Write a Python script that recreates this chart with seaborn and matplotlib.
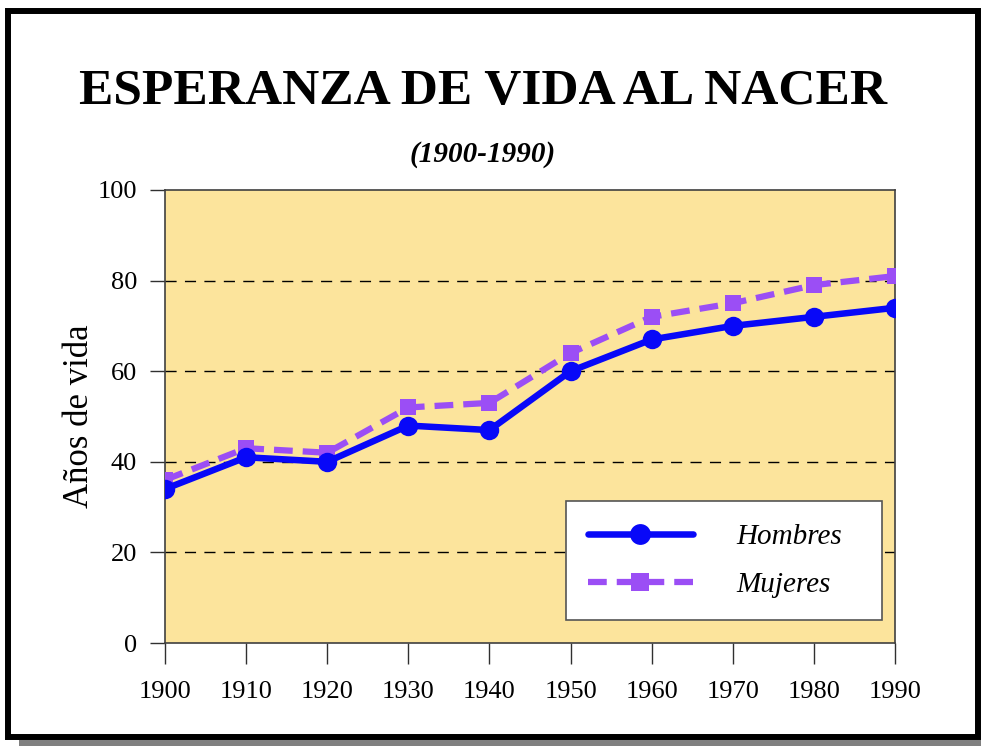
import seaborn as sns
import matplotlib.pyplot as plt
import pandas as pd
from matplotlib.patches import Rectangle
from matplotlib.lines import Line2D

# Datos (esperanza de vida al nacer)
anios = [1900, 1910, 1920, 1930, 1940, 1950, 1960, 1970, 1980, 1990]
hombres = [34, 41, 40, 48, 47, 60, 67, 70, 72, 74]
mujeres = [36, 43, 42, 52, 53, 64, 72, 75, 79, 81]
yticks = [0, 20, 40, 60, 80, 100]

color_h = "#0808F8"
color_m = "#9B4EF5"

sns.set_style("white")
plt.rcParams["font.family"] = ["Liberation Serif", "DejaVu Serif"]
plt.rcParams["text.color"] = "black"
plt.rcParams["axes.labelcolor"] = "black"
plt.rcParams["xtick.color"] = "black"
plt.rcParams["ytick.color"] = "black"

df = pd.DataFrame({"anio": anios, "Hombres": hombres, "Mujeres": mujeres})

fig = plt.figure(figsize=(9.81, 7.46), dpi=100)
ax = fig.add_axes([165 / 981, 1 - 643 / 746, 730 / 981, 453 / 746])
ax.set_facecolor("#FCE49C")

# lineas de cuadricula discontinuas
for y in yticks[1:-1]:
    ax.axhline(y, color="black", lw=1, ls=(0, (8, 6)), zorder=1)

sns.lineplot(data=df, x="anio", y="Mujeres", ax=ax, color=color_m, lw=4.5,
             ls=(0, (3, 1.6)), marker="s", markersize=12, markeredgewidth=0,
             zorder=3)
sns.lineplot(data=df, x="anio", y="Hombres", ax=ax, color=color_h, lw=4.7,
             marker="o", markersize=14, markeredgewidth=0, zorder=4)

ax.set_xlim(1900, 1990)
ax.set_ylim(0, 100)
ax.set_xticks(anios)
ax.set_yticks(yticks)
ax.tick_params(axis="x", direction="out", length=15, width=1, pad=12,
               labelsize=19, bottom=True, color="#303030")
ax.tick_params(axis="y", direction="out", length=11, width=1, pad=9,
               labelsize=19, left=True, color="#303030")
for s in ax.spines.values():
    s.set_color("#404040")
    s.set_linewidth(1.2)
    s.set_visible(True)

ax.set_xlabel("")
ax.set_ylabel("Años de vida", fontsize=25)
ax.yaxis.set_label_coords(-0.094, 0.5)

handles = [
    Line2D([], [], color=color_h, lw=4.7, marker="o", markersize=15,
           markeredgewidth=0),
    Line2D([], [], color=color_m, lw=4.5, ls=(0, (3, 1.6)), marker="s",
           markersize=13, markeredgewidth=0),
]
leg = ax.legend(handles, ["Hombres", "Mujeres"], loc="lower left",
                bbox_to_anchor=(0.549, 0.051, 0.433, 0.265), mode="expand",
                prop={"style": "italic", "size": 21}, frameon=True,
                fancybox=False, edgecolor="#555555", framealpha=1,
                handlelength=3.6, handletextpad=1.5, labelspacing=0.75,
                borderpad=0.75, borderaxespad=0)
leg.get_frame().set_linewidth(1.2)
for t in leg.get_texts():
    t.set_color("black")

# titulos
fig.text(483 / 981, 1 - 92 / 746, "ESPERANZA DE VIDA AL NACER",
         ha="center", va="center", fontsize=37, fontweight="bold")
fig.text(483 / 981, 1 - 155 / 746, "(1900-1990)", ha="center", va="center",
         fontsize=21, fontweight="bold", style="italic")

# marco negro y sombra gris
fig.patches.append(Rectangle((19 / 981, 0), 962 / 981, 6 / 746,
                             transform=fig.transFigure, facecolor="#808080",
                             edgecolor="none", zorder=0))
fig.patches.append(Rectangle((8 / 981, 1 - 737 / 746), 970 / 981, 726 / 746,
                             transform=fig.transFigure, facecolor="none",
                             edgecolor="black", lw=4.3, zorder=10))

fig.savefig("out.png", dpi=100, facecolor="white")
